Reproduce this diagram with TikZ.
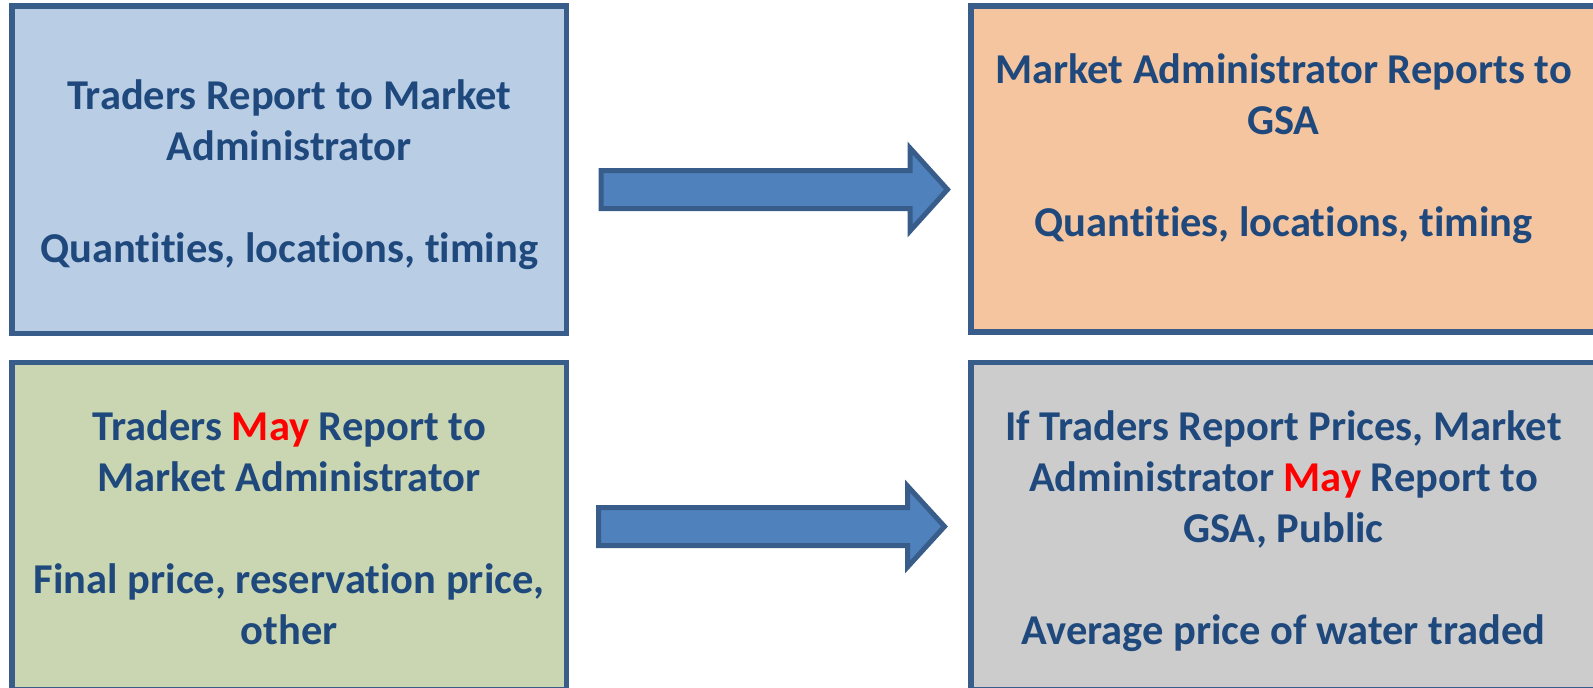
\documentclass[tikz,border=0pt]{standalone}
\usepackage{fontspec}
\setmainfont{Carlito}[Ligatures=NoCommon]
\definecolor{edge}{HTML}{385D8A}
\definecolor{ink}{HTML}{1F497D}
\definecolor{fillblue}{HTML}{B9CDE5}
\definecolor{fillorange}{HTML}{F4C59F}
\definecolor{fillgreen}{HTML}{C9D6B1}
\definecolor{fillgray}{HTML}{CCCCCC}
\definecolor{arrowblue}{HTML}{4F81BD}
\definecolor{alert}{HTML}{FF0000}
\tikzset{
  infobox/.style={rectangle, draw=edge, line width=5.5pt, text=ink, align=center,
    font=\fontsize{42.5}{51}\selectfont\bfseries, inner sep=0pt},
  leftbox/.style={infobox, minimum width=554.5pt, minimum height=327.5pt},
  rightbox/.style={infobox, minimum width=625pt, minimum height=326pt},
  blockarrow/.style={draw=edge, fill=arrowblue, line width=5pt, line join=miter},
}
\newcommand{\may}{\textcolor{alert}{May}}
% fixed struts so every text block sits at the same height in its box
\newcommand{\topstrut}{\rule{0pt}{48.7pt}}
\newcommand{\botstrut}{\rule[-15.3pt]{0pt}{15.3pt}}
\begin{document}
\begin{tikzpicture}[x=1pt, y=-1pt]
  \useasboundingbox (0,0) rectangle (1593,688);
  \clip (0,0) rectangle (1593,688);

  % the four report boxes
  \node[leftbox, fill=fillblue] (tradersReport) at (289.25,169.75)
    {\topstrut Traders Report to Market\\Administrator\\[51pt]Quantities, locations, timing\botstrut};
  \node[rightbox, fill=fillorange] (adminReport) at (1283.5,168.75)
    {\topstrut Market Administrator Reports to\\GSA\\[51pt]Quantities, locations, timing\\\botstrut};
  \node[leftbox, fill=fillgreen] (tradersPrice) at (289.25,526.25)
    {\topstrut Traders \may{} Report to\\Market Administrator\\[51pt]Final price, reservation price,\\other\botstrut};
  \node[rightbox, fill=fillgray, minimum height=327.5pt] (adminPrice) at (1283.5,526.25)
    {\topstrut If Traders Report Prices, Market\\Administrator \may{} Report to\\GSA, Public\\[51pt]Average price of water traded\botstrut};

  % block arrows between the columns
  \draw[blockarrow] (601,170.5) -- (910,170.5) -- (910,148) -- (947.5,189.5)
    -- (910,231) -- (910,208.5) -- (601,208.5) -- cycle;
  \draw[blockarrow] (598.5,507.5) -- (907.5,507.5) -- (907.5,486) -- (944.5,526.5)
    -- (907.5,567) -- (907.5,545.5) -- (598.5,545.5) -- cycle;
\end{tikzpicture}
\end{document}
